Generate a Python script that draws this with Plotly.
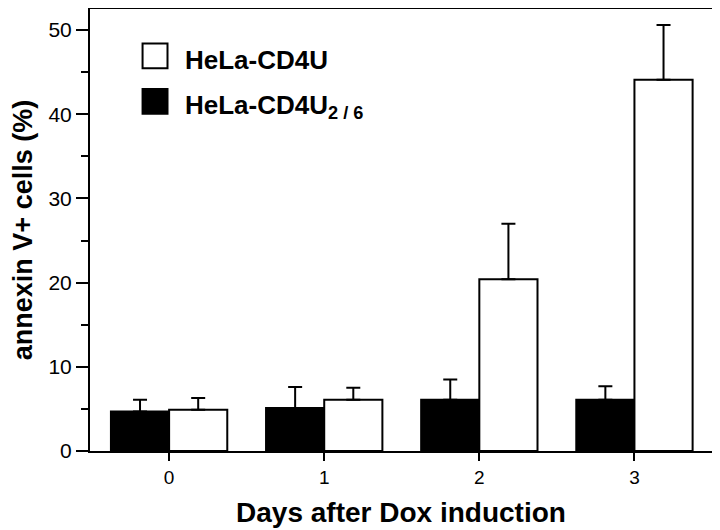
import plotly.graph_objects as go

days = [0, 1, 2, 3]
day_labels = ["0", "1", "2", "3"]
mutant_name = "HeLa-CD4U<sub>2 / 6</sub>"
wild_name = "HeLa-CD4U"
mutant_vals = [4.7, 5.1, 6.1, 6.1]
mutant_err = [1.4, 2.5, 2.4, 1.6]
wild_vals = [4.9, 6.1, 20.4, 44.1]
wild_err = [1.4, 1.4, 6.6, 6.5]

font_family = "Liberation Sans, Arial, Helvetica, sans-serif"

fig = go.Figure()
fig.add_trace(go.Bar(
    x=days, y=mutant_vals, name=mutant_name,
    marker=dict(color="black", line=dict(color="black", width=2)),
    error_y=dict(type="data", symmetric=False, array=mutant_err,
                 arrayminus=[0] * len(days), color="black", thickness=2, width=7),
    showlegend=False,
))
fig.add_trace(go.Bar(
    x=days, y=wild_vals, name=wild_name,
    marker=dict(color="white", line=dict(color="black", width=2)),
    error_y=dict(type="data", symmetric=False, array=wild_err,
                 arrayminus=[0] * len(days), color="black", thickness=2, width=7),
    showlegend=False,
))

# manual legend
legend_items = [(wild_name, "white", 0.894, 0.884), (mutant_name, "black", 0.791, 0.779)]
for name, col, yc, yt in legend_items:
    fig.add_shape(type="rect", xref="paper", yref="paper",
                  x0=0.0845, x1=0.1246, y0=yc - 0.028, y1=yc + 0.028,
                  fillcolor=col, line=dict(color="black", width=2))
    fig.add_annotation(xref="paper", yref="paper", x=0.1495, y=yt,
                       text="<b>" + name + "</b>", showarrow=False,
                       xanchor="left", yanchor="middle",
                       font=dict(size=26, color="black", family=font_family))

fig.update_layout(
    width=720, height=530,
    margin=dict(l=82, r=16, t=1, b=87, autoexpand=False),
    paper_bgcolor="white", plot_bgcolor="white",
    barmode="group", bargap=0.25, bargroupgap=0,
    font=dict(family=font_family, color="black", size=19),
    xaxis=dict(
        range=[-0.51, 3.5], tickvals=days, ticktext=day_labels,
        showline=True, linecolor="black", linewidth=2, mirror=True,
        ticks="outside", ticklen=8, tickwidth=2, tickcolor="black",
        showgrid=False, zeroline=False, automargin=False,
        tickfont=dict(size=19),
        title=dict(text="<b>Days after Dox induction</b>", font=dict(size=28), standoff=16),
    ),
    yaxis=dict(
        range=[0, 52.5], tickvals=[0, 10, 20, 30, 40, 50],
        showline=True, linecolor="black", linewidth=2, mirror=True,
        ticks="outside", ticklen=12, tickwidth=2, tickcolor="black",
        minor=dict(tickvals=[5, 15, 25, 35, 45], ticks="outside", ticklen=7,
                   tickwidth=2, tickcolor="black"),
        showgrid=False, zeroline=False, automargin=False,
        tickfont=dict(size=21),
        title=dict(text="<b>annexin V+ cells (%)</b>", font=dict(size=27), standoff=13),
    ),
)

fig.write_html("out.html")
